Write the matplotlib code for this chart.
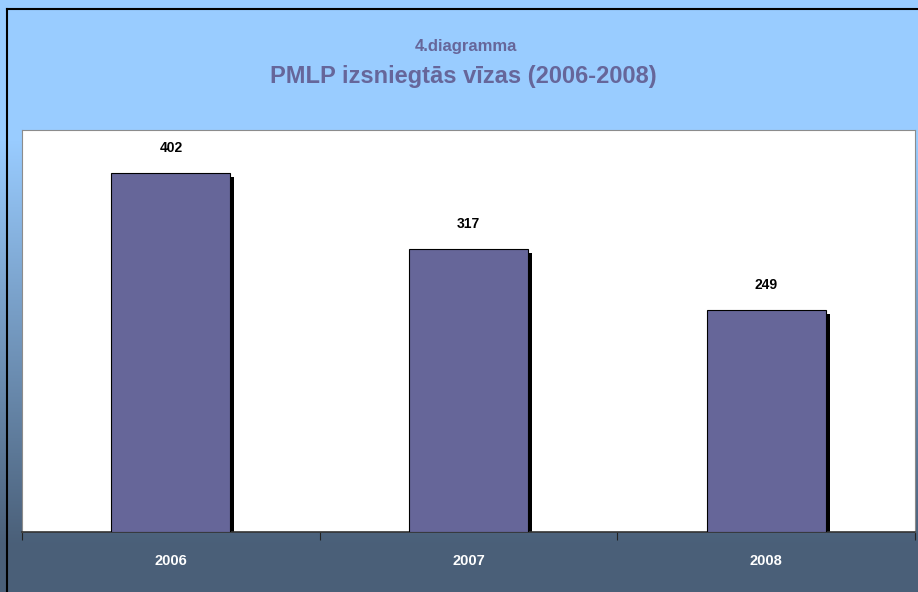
import matplotlib
matplotlib.use("Agg")
import matplotlib.pyplot as plt
import matplotlib.transforms as mtransforms
from matplotlib.lines import Line2D
import numpy as np

years = ["2006", "2007", "2008"]
visas = [402, 317, 249]

plt.rcParams['font.family'] = ['Liberation Sans', 'DejaVu Sans']

fig = plt.figure(figsize=(9.18, 5.92), dpi=100)

# background gradient: light blue at top -> slate at bottom
bg = fig.add_axes([0, 0, 1, 1], zorder=-10)
bg.set_axis_off()
top_col = np.array([0x99, 0xCC, 0xFF]) / 255
bot_col = np.array([0x4A, 0x5F, 0x78]) / 255
h = 592
t = np.clip((np.arange(h) - 140) / (545 - 140), 0, 1)[:, None]
grad = top_col * (1 - t) + bot_col * t
img = np.repeat(grad[:, None, :], 4, axis=1)
bg.imshow(img, aspect='auto', extent=[0, 1, 0, 1], origin='upper')
bg.set_xlim(0, 1)
bg.set_ylim(0, 1)

# outer frame (left and top only, rest is cropped)
fig.add_artist(Line2D([7 / 918, 7 / 918], [0, 1 - 9 / 592], color='black', lw=1.5, transform=fig.transFigure))
fig.add_artist(Line2D([7 / 918, 1], [1 - 9 / 592, 1 - 9 / 592], color='black', lw=1.5, transform=fig.transFigure))

ax = fig.add_axes([22 / 918, 1 - 532 / 592, (915 - 22) / 918, (532 - 130) / 592])
ax.set_facecolor('white')
x = np.arange(len(years))
shadow = mtransforms.offset_copy(ax.transData, fig=fig, x=4, y=-4, units='dots')
ax.bar(x, visas, width=0.4, color='black', transform=shadow, zorder=2)
ax.bar(x, visas, width=0.4, color='#666699', edgecolor='black', linewidth=0.8, zorder=3)

for xi, v in zip(x, visas):
    ax.annotate(str(v), (xi, v), xytext=(0, 25), textcoords='offset pixels',
                ha='center', va='center', fontsize=10, fontweight='bold', color='black')

ax.set_xlim(-0.5, 2.5)
ax.set_ylim(0, 450)
ax.set_yticks([])
ax.set_xticks([-0.5, 0.5, 1.5, 2.5])
ax.set_xticklabels([])
ax.tick_params(axis='x', length=6, width=0.8, color='#222222', direction='out')
for side in ['top', 'left', 'right']:
    ax.spines[side].set_color('#8c8c8c')
ax.spines['bottom'].set_color('#333333')
ax.spines['bottom'].set_linewidth(1.2)

lab_tr = mtransforms.blended_transform_factory(ax.transData, ax.transAxes)
for xi, yr in zip(x, years):
    ax.text(xi, -29 / 402, yr, transform=lab_tr, ha='center', va='center',
            fontsize=10.5, fontweight='bold', color='white')

fig.text(466 / 918, 1 - 47 / 592, "4.diagramma", ha='center', va='center',
         fontsize=12, fontweight='bold', color='#66669A')
fig.text(463 / 918, 1 - 76 / 592, "PMLP izsniegtās vīzas (2006-2008)", ha='center', va='center',
         fontsize=17, fontweight='bold', color='#66669A')

fig.savefig("out.png", dpi=100)
